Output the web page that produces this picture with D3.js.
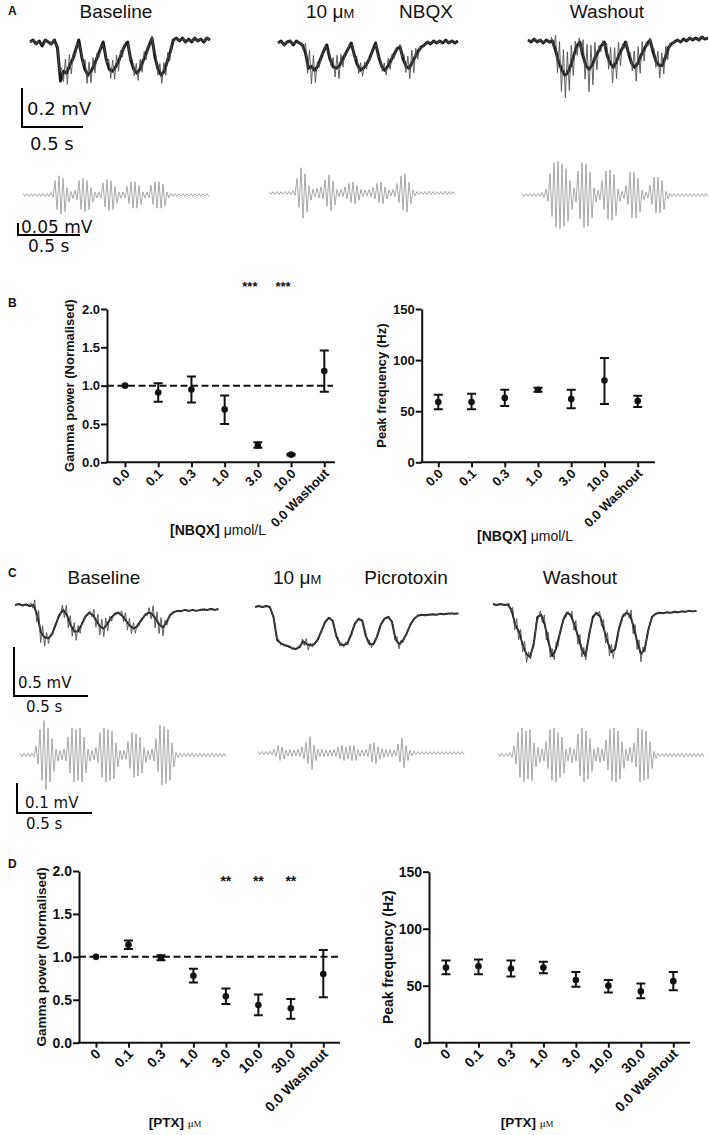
<!DOCTYPE html>
<html><head><meta charset="utf-8">
<script src="https://cdn.jsdelivr.net/npm/d3@7"></script>
<style>body{margin:0;background:#fff} svg{display:block}</style>
</head><body>
<svg id="fig" width="709" height="1135"></svg>
<script>
// ================= DATA =================
// Panel B (NBQX)
const nbqxCats = ["0.0","0.1","0.3","1.0","3.0","10.0","0.0 Washout"];
const nbqxGammaMean = [1.00,0.91,0.95,0.69,0.22,0.10,1.19];
const nbqxGammaLo   = [1.00,0.79,0.78,0.50,0.19,0.09,0.92];
const nbqxGammaHi   = [1.00,1.03,1.12,0.87,0.26,0.11,1.46];
const nbqxFreqMean  = [59,59,63,71,62,80,60];
const nbqxFreqLo    = [52,52,55,69,53,57,54];
const nbqxFreqHi    = [66,67,71,73,71,102,65];
const nbqxStars = [{cat:"3.0",label:"***"},{cat:"10.0",label:"***"}];
// Panel D (PTX)
const ptxCats = ["0","0.1","0.3","1.0","3.0","10.0","30.0","0.0 Washout"];
const ptxGammaMean = [1.00,1.14,0.99,0.78,0.54,0.44,0.40,0.80];
const ptxGammaLo   = [1.00,1.09,0.96,0.70,0.45,0.32,0.28,0.53];
const ptxGammaHi   = [1.00,1.19,1.02,0.86,0.63,0.56,0.51,1.08];
const ptxFreqMean  = [66,67,65,66,55,50,45,54];
const ptxFreqLo    = [60,60,58,61,49,44,39,46];
const ptxFreqHi    = [72,73,72,71,62,55,52,62];
const ptxStars = [{cat:"3.0",label:"**"},{cat:"10.0",label:"**"},{cat:"30.0",label:"**"}];
const gammaTicks = [0,0.5,1.0,1.5,2.0];
const freqTicks = [0,50,100,150];
const gammaRef = 1.0;

// Raw traces (mV relative to baseline, sampled every 0.025 s)
const rawDt = 0.025;
const nbqxRawBaseline = [0,0.01,-0.01,0.005,-0.02,0.01,0,-0.01,0.01,-0.03,-0.2,-0.15,-0.16,-0.12,-0.09,-0.04,0.01,-0.08,-0.14,-0.17,-0.15,-0.12,-0.08,-0.04,0,-0.09,-0.14,-0.15,-0.13,-0.1,-0.06,-0.02,0,-0.09,-0.14,-0.16,-0.14,-0.1,-0.06,-0.02,0.02,-0.08,-0.14,-0.17,-0.15,-0.1,-0.05,0.01,0.02,0.005,0.02,0,0.015,0,0.02,0.005,0.015,0,0.02,0.01];
const nbqxRawDrug = [0,0.01,-0.01,0.005,0.01,-0.01,0.01,0,-0.01,-0.05,-0.13,-0.12,-0.14,-0.12,-0.08,-0.04,-0.01,-0.08,-0.12,-0.13,-0.12,-0.09,-0.06,-0.03,0,-0.06,-0.11,-0.14,-0.13,-0.11,-0.08,-0.04,0,-0.07,-0.12,-0.14,-0.12,-0.09,-0.06,-0.03,-0.02,-0.08,-0.12,-0.13,-0.1,-0.07,-0.04,-0.02,-0.01,0.005,-0.005,0.01,0,0.01,0,0.015,0,0.01,0,0.01];
const nbqxRawWash = [0.01,0,0.015,0,0.01,-0.005,0.01,0,0.005,-0.04,-0.1,-0.14,-0.17,-0.16,-0.12,-0.07,-0.02,0,-0.07,-0.12,-0.14,-0.12,-0.08,-0.05,-0.02,0,-0.07,-0.11,-0.13,-0.1,-0.06,-0.03,0,-0.06,-0.11,-0.13,-0.11,-0.07,-0.04,-0.01,0.01,-0.05,-0.1,-0.12,-0.12,-0.08,-0.03,-0.01,0,0.01,0,0.015,0.005,0.02,0.01,0.02,0.01,0.025,0.015,0.02];
const ptxRawBaseline = [0,0.01,-0.005,0.005,-0.01,0,-0.1,-0.28,-0.33,-0.34,-0.3,-0.2,-0.1,-0.05,-0.1,-0.2,-0.27,-0.27,-0.2,-0.12,-0.08,-0.1,-0.16,-0.22,-0.24,-0.19,-0.13,-0.09,-0.08,-0.11,-0.16,-0.21,-0.24,-0.22,-0.16,-0.11,-0.08,-0.09,-0.14,-0.2,-0.23,-0.17,-0.1,-0.07,-0.06,-0.06,-0.05,-0.06,-0.05,-0.06,-0.05,-0.045,-0.05,-0.04,-0.05,-0.04];
const ptxRawDrug = [0,0.01,0,0.01,0,-0.1,-0.34,-0.37,-0.39,-0.4,-0.42,-0.43,-0.41,-0.35,-0.38,-0.39,-0.38,-0.33,-0.24,-0.15,-0.11,-0.14,-0.3,-0.38,-0.39,-0.37,-0.28,-0.17,-0.12,-0.14,-0.3,-0.38,-0.38,-0.3,-0.18,-0.12,-0.1,-0.15,-0.33,-0.38,-0.34,-0.27,-0.18,-0.12,-0.09,-0.08,-0.085,-0.08,-0.075,-0.08,-0.07,-0.075,-0.07,-0.065,-0.07,-0.065];
const ptxRawWash = [0.01,0,0.01,0,0.005,-0.05,-0.2,-0.27,-0.4,-0.5,-0.53,-0.4,-0.12,-0.1,-0.2,-0.38,-0.52,-0.45,-0.3,-0.15,-0.08,-0.1,-0.2,-0.32,-0.45,-0.52,-0.3,-0.12,-0.08,-0.12,-0.25,-0.38,-0.48,-0.45,-0.25,-0.12,-0.08,-0.1,-0.22,-0.38,-0.5,-0.45,-0.25,-0.12,-0.09,-0.08,-0.085,-0.075,-0.08,-0.07,-0.075,-0.065,-0.07,-0.06,-0.065,-0.06];

// Gamma-filtered traces: oscillation amplitude per cycle (µV)
const nbqxFiltBaseline = [5,6,5,6,5,7,6,10,60,80,70,30,15,20,60,70,60,30,12,12,50,65,60,35,12,12,35,55,55,40,12,12,40,55,55,45,12,6,6,5,6,5,6,5,6,5,6];
const nbqxFiltDrug = [5,5,6,5,6,7,10,60,105,80,30,15,20,25,55,75,50,15,15,25,40,45,30,15,12,15,25,40,45,25,12,15,40,70,80,45,12,6,5,6,7,6,5,6,7,6,5];
const nbqxFiltWash = [6,5,6,7,6,10,25,90,135,140,130,110,60,30,100,135,130,95,30,20,60,100,105,85,25,15,40,95,95,70,20,12,40,75,75,60,15,7,6,7,6,7,6,7,6,7,6];
const ptxFiltBaseline = [6,5,6,7,30,85,115,90,55,20,15,20,60,90,85,90,60,20,15,25,75,90,85,80,40,15,15,45,75,70,60,25,15,20,55,100,95,85,40,8,6,5,6,7,5,6,5,6,7,5,6,5];
const ptxFiltDrug = [5,5,5,7,12,25,20,10,12,10,12,20,35,55,25,12,12,10,10,12,20,25,20,25,25,12,10,12,30,35,20,15,12,12,10,30,50,25,10,7,5,5,5,5,5,5,5,5,5,5,5,5];
const ptxFiltWash = [5,6,5,8,30,75,90,80,85,40,25,20,45,85,90,75,60,20,25,20,70,90,80,55,20,25,20,50,85,90,80,45,20,25,40,90,85,80,45,12,6,5,6,5,6,5,7,5,6,5,6,5];

// Scale bars
const nbqxRawBar = {mV:0.2, s:0.5, mVLabel:"0.2 mV", sLabel:"0.5 s"};
const nbqxFiltBar = {mV:0.05, s:0.5, mVLabel:"0.05 mV", sLabel:"0.5 s"};
const ptxRawBar = {mV:0.5, s:0.5, mVLabel:"0.5 mV", sLabel:"0.5 s"};
const ptxFiltBar = {mV:0.1, s:0.5, mVLabel:"0.1 mV", sLabel:"0.5 s"};

// ================= RENDER =================
const svg = d3.select("#fig");
const SANS = "'Liberation Sans', Arial, Helvetica, sans-serif";
const VERD = "'DejaVu Sans', Verdana, sans-serif";
const SERIF = "'Liberation Serif', 'Times New Roman', serif";
const INK = "#111";

function txt(x, y, s, size, opts = {}) {
  return svg.append("text").attr("x", x).attr("y", y).text(s)
    .attr("font-family", opts.family || SANS).attr("font-size", size)
    .attr("font-weight", opts.weight || "normal")
    .attr("text-anchor", opts.anchor || "start").attr("fill", INK);
}

// panel letters
[["A",15],["B",307],["C",577],["D",868]].forEach(([l,y]) => txt(8, y, l, 12, {weight:"bold"}));

// condition titles
function condTitle(x, y, s) { txt(x, y, s, 19, {anchor:"middle"}); }
function concTitle(x, y) {
  const t = txt(x, y, "10 μ", 19);
  t.append("tspan").text("M").attr("font-size", 13);
}
condTitle(116, 18, "Baseline");
concTitle(306, 18);
condTitle(426, 18, "NBQX");
condTitle(607, 18, "Washout");
condTitle(104, 584, "Baseline");
concTitle(273, 584);
condTitle(406, 584, "Picrotoxin");
condTitle(580, 584, "Washout");

function traceScales(o) {
  const x = d3.scaleLinear().domain([0, 1]).range([o.x0, o.x0 + o.pxPerS]);
  const y = d3.scaleLinear().domain([0, -1]).range([o.y0, o.y0 + o.pxPerMV]);
  return {x, y};
}

function drawRaw(data, gamma, o) {
  const {x, y} = traceScales(o);
  const tmax = (data.length - 1) * rawDt;
  const low = t => {
    const f = t / rawDt; const i = Math.min(Math.floor(f), data.length - 2);
    const r = Math.min(f - i, 1); return data[i] * (1 - r) + data[i + 1] * r;
  };
  const pts = [];
  gamma.forEach((a, i) => {
    const t = i * o.gdt; if (t > tmax) return;
    pts.push([t, low(t) + a / 1000 * o.k]);
    const t2 = t + o.gdt / 2; if (t2 <= tmax) pts.push([t2, low(t2) - a / 1000 * o.k]);
  });
  const line = d3.line().x(d => x(d[0])).y(d => y(d[1]));
  svg.append("path").attr("d", line(data.map((v, i) => [i * rawDt, v])))
    .attr("fill", "none").attr("stroke", "#1a1a1a").attr("stroke-width", o.band).attr("stroke-linejoin", "round");
  svg.append("path").attr("d", line(pts)).attr("fill", "none").attr("stroke", "#505050").attr("stroke-width", 0.9);
}

function drawFilt(amp, o) {
  const {x, y} = traceScales(o);
  const pts = [];
  amp.forEach((a, i) => {
    const t = i * o.gdt;
    pts.push([t, a / 1000]);
    pts.push([t + o.gdt / 2, -a / 1000]);
  });
  svg.append("path").attr("d", d3.line().x(d => x(d[0])).y(d => y(d[1]))(pts))
    .attr("fill", "none").attr("stroke", "#999").attr("stroke-width", 0.85);
}

function scaleBar(bar, o, lay) {
  const {x, y} = traceScales(o);
  const x0 = lay.x, yb = lay.y;
  const len = x(bar.s) - x(0), h = y(-bar.mV) - y(0);
  svg.append("path").attr("d", `M${x0},${yb - h}V${yb}H${x0 + len}`)
    .attr("fill", "none").attr("stroke", "#000").attr("stroke-width", 2);
  txt(lay.tx1, lay.ty1, bar.mVLabel, lay.fs, {family: VERD});
  txt(lay.tx2, lay.ty2, bar.sLabel, lay.fs, {family: VERD});
}

// Panel A traces
const aRaw = {pxPerS:122, pxPerMV:195, gdt:4/124, k:0.85, band:3};
const aFilt = {pxPerS:124, pxPerMV:240, gdt:4/124};
drawRaw(nbqxRawBaseline, nbqxFiltBaseline, {...aRaw, x0:30, y0:42});
drawRaw(nbqxRawDrug, nbqxFiltDrug, {...aRaw, x0:278, y0:43});
drawRaw(nbqxRawWash, nbqxFiltWash, {...aRaw, x0:528, y0:42});
drawFilt(nbqxFiltBaseline, {...aFilt, x0:23, y0:195});
drawFilt(nbqxFiltDrug, {...aFilt, x0:269, y0:193});
drawFilt(nbqxFiltWash, {...aFilt, x0:522, y0:195});
scaleBar(nbqxRawBar, {...aRaw, x0:0, y0:0}, {x:22, y:127, tx1:27, ty1:115, tx2:30, ty2:150, fs:18});
scaleBar(nbqxFiltBar, {...aFilt, x0:0, y0:0}, {x:18, y:235, tx1:21, ty1:233, tx2:28, ty2:252, fs:17});

// Panel C traces
const cRaw = {pxPerS:148, pxPerMV:98, gdt:4/150, k:1.0, band:2};
const cFilt = {pxPerS:150, pxPerMV:300, gdt:4/150};
drawRaw(ptxRawBaseline, ptxFiltBaseline, {...cRaw, x0:15, y0:605});
drawRaw(ptxRawDrug, ptxFiltDrug, {...cRaw, x0:255, y0:607});
drawRaw(ptxRawWash, ptxFiltWash, {...cRaw, x0:493, y0:605});
drawFilt(ptxFiltBaseline, {...cFilt, x0:20, y0:755});
drawFilt(ptxFiltDrug, {...cFilt, x0:258, y0:753});
drawFilt(ptxFiltWash, {...cFilt, x0:498, y0:755});
scaleBar(ptxRawBar, {...cRaw, x0:0, y0:0}, {x:14, y:696, tx1:18, ty1:688, tx2:26, ty2:712, fs:15});
scaleBar(ptxFiltBar, {...cFilt, x0:0, y0:0}, {x:17, y:813, tx1:25, ty1:808, tx2:26, ty2:829, fs:15});

// ---- dot plots ----
function dotPlot(c) {
  const g = svg.append("g");
  const x = d3.scalePoint().domain(c.cats).range(c.xRange);
  const y = d3.scaleLinear().domain([c.yTicks[0], c.yTicks[c.yTicks.length - 1]]).range(c.yRange);
  const ya = g.append("g").attr("transform", `translate(${c.axisX0},0)`)
    .call(d3.axisLeft(y).tickValues(c.yTicks).tickFormat(c.fmt).tickSize(6).tickSizeOuter(0).tickPadding(1));
  ya.select(".domain").attr("stroke-width", 2).attr("stroke", INK);
  ya.selectAll(".tick line").attr("stroke-width", 2).attr("stroke", INK);
  ya.selectAll("text").attr("font-family", SANS).attr("font-weight", "bold").attr("font-size", c.fs).attr("fill", INK);
  const xa = g.append("g").attr("transform", `translate(0,${c.yRange[0]})`)
    .call(d3.axisBottom(x).tickSize(5).tickSizeOuter(0));
  xa.select(".domain").remove();
  xa.selectAll(".tick line").attr("stroke-width", 2).attr("stroke", INK);
  xa.selectAll("text").attr("font-family", SANS).attr("font-weight", "bold").attr("font-size", c.fs).attr("fill", INK)
    .attr("text-anchor", "end").attr("dy", null).attr("y", 0)
    .attr("transform", "translate(5,12) rotate(-45)");
  g.append("line").attr("x1", c.axisX0 - 1).attr("x2", c.axisX1).attr("y1", c.yRange[0]).attr("y2", c.yRange[0])
    .attr("stroke", INK).attr("stroke-width", 2);
  if (c.ref != null) {
    g.append("line").attr("x1", c.axisX0).attr("x2", c.axisX1 - 2).attr("y1", y(c.ref)).attr("y2", y(c.ref))
      .attr("stroke", INK).attr("stroke-width", 2).attr("stroke-dasharray", "7,3.5");
  }
  const cap = 4.5;
  c.cats.forEach((k, i) => {
    const cx = x(k);
    if (c.hi[i] !== c.lo[i]) {
      g.append("path").attr("d", `M${cx - cap},${y(c.hi[i])}H${cx + cap}M${cx},${y(c.hi[i])}V${y(c.lo[i])}M${cx - cap},${y(c.lo[i])}H${cx + cap}`)
        .attr("fill", "none").attr("stroke", INK).attr("stroke-width", 2);
    }
    g.append("circle").attr("cx", cx).attr("cy", y(c.mean[i])).attr("r", 3.3).attr("fill", INK);
  });
  (c.stars || []).forEach(s => txt(x(s.cat) + c.starDx, c.starY, s.label, c.fs, {weight:"bold", anchor:"middle"}));
  g.append("text").attr("transform", `translate(${c.yTitleX},${(c.yRange[0] + c.yRange[1]) / 2}) rotate(-90)`)
    .attr("text-anchor", "middle").attr("font-family", SANS).attr("font-weight", "bold")
    .attr("font-size", c.yfs).attr("fill", INK).text(c.yTitle);
  const xt = g.append("text").attr("x", c.xTitleX).attr("y", c.xTitleY).attr("text-anchor", "middle")
    .attr("font-family", SANS).attr("fill", INK);
  c.xTitle.forEach(p => xt.append("tspan").text(p.t).attr("font-size", p.size)
    .attr("font-weight", p.bold ? "bold" : "normal").attr("font-family", p.family || SANS));
}

const nbqxXTitle = [{t:"[NBQX] ", size:14, bold:true}, {t:"μmol/L", size:14}];
const ptxXTitle = [{t:"[PTX] ", size:13.5, bold:true}, {t:"μ", size:11, family:SERIF}, {t:"M", size:8.5, family:SERIF}];

dotPlot({cats:nbqxCats, mean:nbqxGammaMean, lo:nbqxGammaLo, hi:nbqxGammaHi, yTicks:gammaTicks, fmt:d3.format(".1f"),
  xRange:[125,324.3], yRange:[462.3,309], axisX0:107, axisX1:335, fs:13, yfs:13, ref:gammaRef,
  stars:nbqxStars, starDx:-8, starY:291, yTitle:"Gamma power (Normalised)", yTitleX:74,
  xTitle:nbqxXTitle, xTitleX:218, xTitleY:535});
dotPlot({cats:nbqxCats, mean:nbqxFreqMean, lo:nbqxFreqLo, hi:nbqxFreqHi, yTicks:freqTicks, fmt:d3.format("d"),
  xRange:[438.3,637.7], yRange:[462.3,309], axisX0:421.7, axisX1:655, fs:13, yfs:13,
  yTitle:"Peak frequency (Hz)", yTitleX:386, xTitle:nbqxXTitle, xTitleX:525, xTitleY:541});
dotPlot({cats:ptxCats, mean:ptxGammaMean, lo:ptxGammaLo, hi:ptxGammaHi, yTicks:gammaTicks, fmt:d3.format(".1f"),
  xRange:[96,323.3], yRange:[1042.7,871], axisX0:79, axisX1:340, fs:14, yfs:13.5, ref:gammaRef,
  stars:ptxStars, starDx:0, starY:886, yTitle:"Gamma power (Normalised)", yTitleX:46,
  xTitle:ptxXTitle, xTitleX:175, xTitleY:1127});
dotPlot({cats:ptxCats, mean:ptxFreqMean, lo:ptxFreqLo, hi:ptxFreqHi, yTicks:freqTicks, fmt:d3.format("d"),
  xRange:[446,673.3], yRange:[1042.7,871.7], axisX0:429, axisX1:690, fs:14, yfs:14,
  yTitle:"Peak frequency (Hz)", yTitleX:393, xTitle:ptxXTitle, xTitleX:527, xTitleY:1127});
</script>
</body></html>
